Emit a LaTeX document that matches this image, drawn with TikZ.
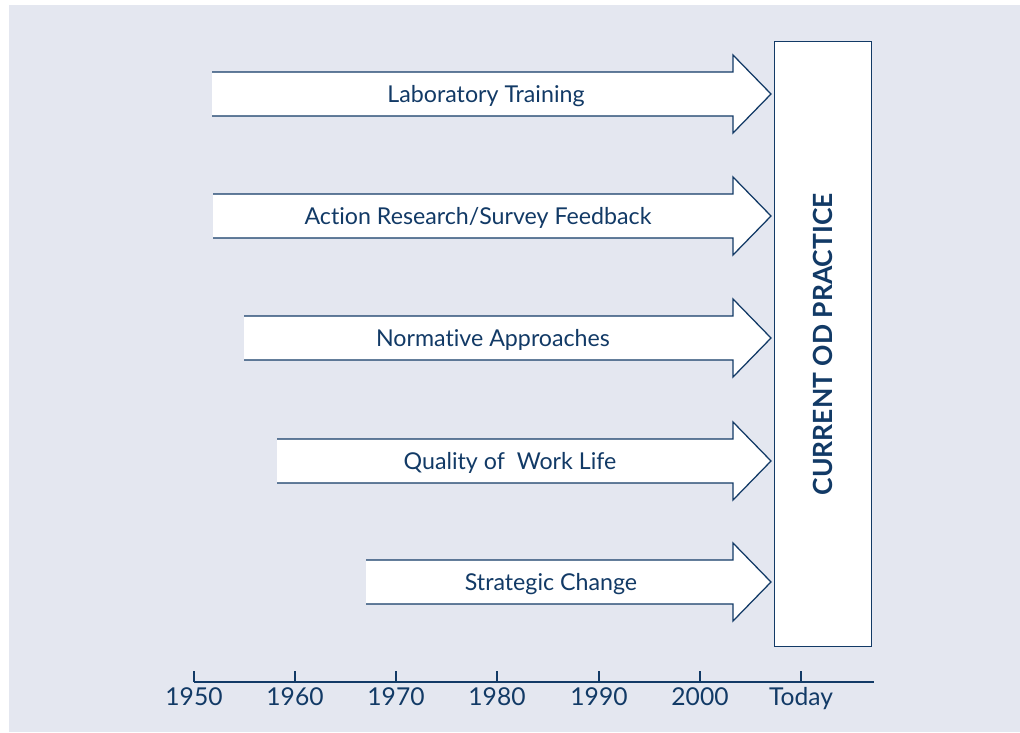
\documentclass[tikz,border=0pt]{standalone}
\usepackage{fontspec}
\setmainfont{Lato}[Ligatures=NoCommon]
\usetikzlibrary{positioning}

\definecolor{odnavy}{HTML}{123A66}
\definecolor{odback}{HTML}{E4E7F0}

\tikzset{
  streamline/.style={draw=odnavy, line width=0.9pt, line join=miter},
  streamtext/.style={text=odnavy, font=\fontsize{16.5}{20}\selectfont},
  yeartext/.style={text=odnavy, font=\fontsize{17.5}{20}\selectfont, anchor=base},
}

% one stream arrow: #1 left end, #2 middle line
\newcommand{\odstream}[2]{%
  \fill[white] (#1,#2-22) -- (733,#2-22) -- (733,#2-39) -- (771,#2) -- (733,#2+39) -- (733,#2+22) -- (#1,#2+22) -- cycle;
  \draw[streamline] (#1,#2-22) -- (733,#2-22) -- (733,#2-39) -- (771,#2) -- (733,#2+39) -- (733,#2+22) -- (#1,#2+22);}

\begin{document}
\begin{tikzpicture}[x=0.025cm, y=-0.025cm]
    \useasboundingbox (0,0) rectangle (1020,732);
    \fill[odback] (9,5) rectangle (1020,732);

    % the box on the right
    \node[draw=odnavy, fill=white, line width=0.9pt, inner sep=0pt, anchor=north west,
          minimum width=2.425cm, minimum height=15.125cm] (practice) at (774,41) {};
    \node[rotate=90, text=odnavy, font=\fontsize{18.8}{22}\selectfont\bfseries] (practicetext) at (practice.center) {CURRENT OD PRACTICE};

    % streams
    \odstream{212}{94}
    \odstream{213}{216}
    \odstream{244}{338}
    \odstream{277}{461}
    \odstream{366}{582}
    \node[streamtext] (labtraining) at (486,96) {Laboratory Training};
    \node[streamtext] (actionres) at (478,218) {Action Research/Survey Feedback};
    \node[streamtext] (normative) at (493,340) {Normative Approaches};
    \node[streamtext] (qwl) at (510,463) {Quality of\ \ Work Life};
    \node[streamtext] (strategic) at (551,584) {Strategic Change};

    % time line
    \coordinate (axisstart) at (194,682);
    \coordinate (axisend) at (874,682);
    \draw[streamline] (axisstart) -- (axisend);
    \foreach \x/\yr in {194/1950, 295/1960, 396/1970, 497/1980, 599/1990, 700/2000, 801/Today} {
        \draw[streamline] (\x,682) -- (\x,671);
        \node[yeartext] (yr\yr) at (\x,705) {\yr};
    }
\end{tikzpicture}
\end{document}
